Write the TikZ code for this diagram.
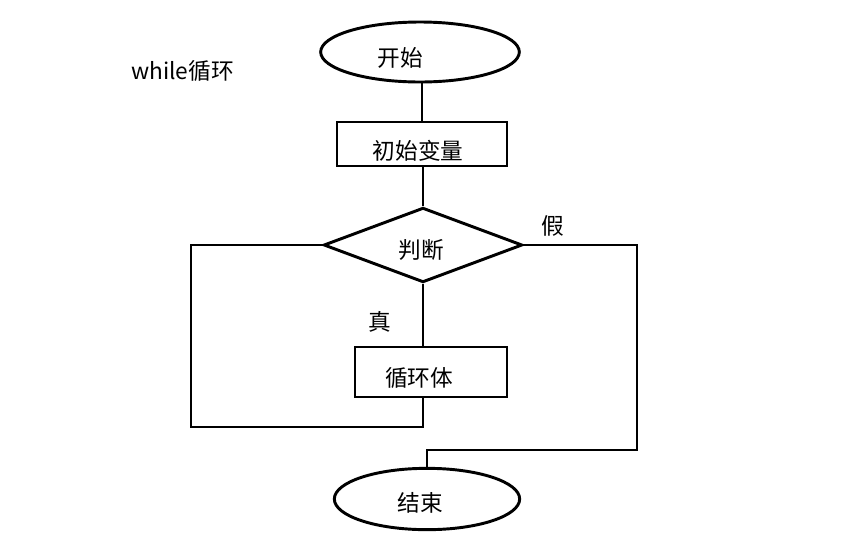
\documentclass[tikz,border=0pt]{standalone}
\usepackage{fontspec}
\setmainfont{Noto Sans CJK SC}
\usetikzlibrary{shapes.geometric}
\tikzset{
  flowline/.style={line width=2.2pt, line join=miter},
  term/.style={draw, ellipse, line width=2.2pt, inner sep=0pt},
  procbox/.style={draw, rectangle, line width=2.2pt, inner sep=0pt},
  decision/.style={draw, diamond, line width=2.2pt, inner sep=0pt},
  txt/.style={inner sep=0pt, font=\fontsize{17}{20}\selectfont}
}
\begin{document}
\begin{tikzpicture}[x=0.75pt,y=0.75pt,yscale=-1,xscale=1]
\useasboundingbox (0,0) rectangle (854,547);

%Shapes
\node [term, minimum width=149pt, minimum height=45pt] (start) at (420,52) {};
\node [procbox, minimum width=127.5pt, minimum height=33pt] (init) at (422,144) {};
\node [decision, minimum width=149pt, minimum height=56pt] (cond) at (423,245) {};
\node [procbox, minimum width=114pt, minimum height=37.5pt] (body) at (431,372) {};
\node [term, minimum width=139pt, minimum height=46pt] (finish) at (427,499) {};

% Text Node
\node [txt, anchor=west] (title) at (131,71) {while循环};
\node [txt] (startlbl) at (400,58) {开始};
\node [txt] (initlbl) at (418,151) {初始变量};
\node [txt] (condlbl) at (421,250) {判断};
\node [txt] (truelbl) at (380,322) {真};
\node [txt] (falselbl) at (553,226) {假};
\node [txt] (bodylbl) at (419,378) {循环体};
\node [txt] (finishlbl) at (420,503) {结束};

%Connectors
\draw [flowline] (start.south -| init.north) -- (init.north);
\draw [flowline] (init.south) -- (init.south -| cond.north) -- (cond.north);
\draw [flowline] (cond.south) -- (cond.south |- body.north);
\draw [flowline] (cond.south |- body.south) |- (191,427) |- (cond.west);
\draw [flowline] (cond.east) -- (637,245) -- (637,450) -| (finish.north);

\end{tikzpicture}
\end{document}
